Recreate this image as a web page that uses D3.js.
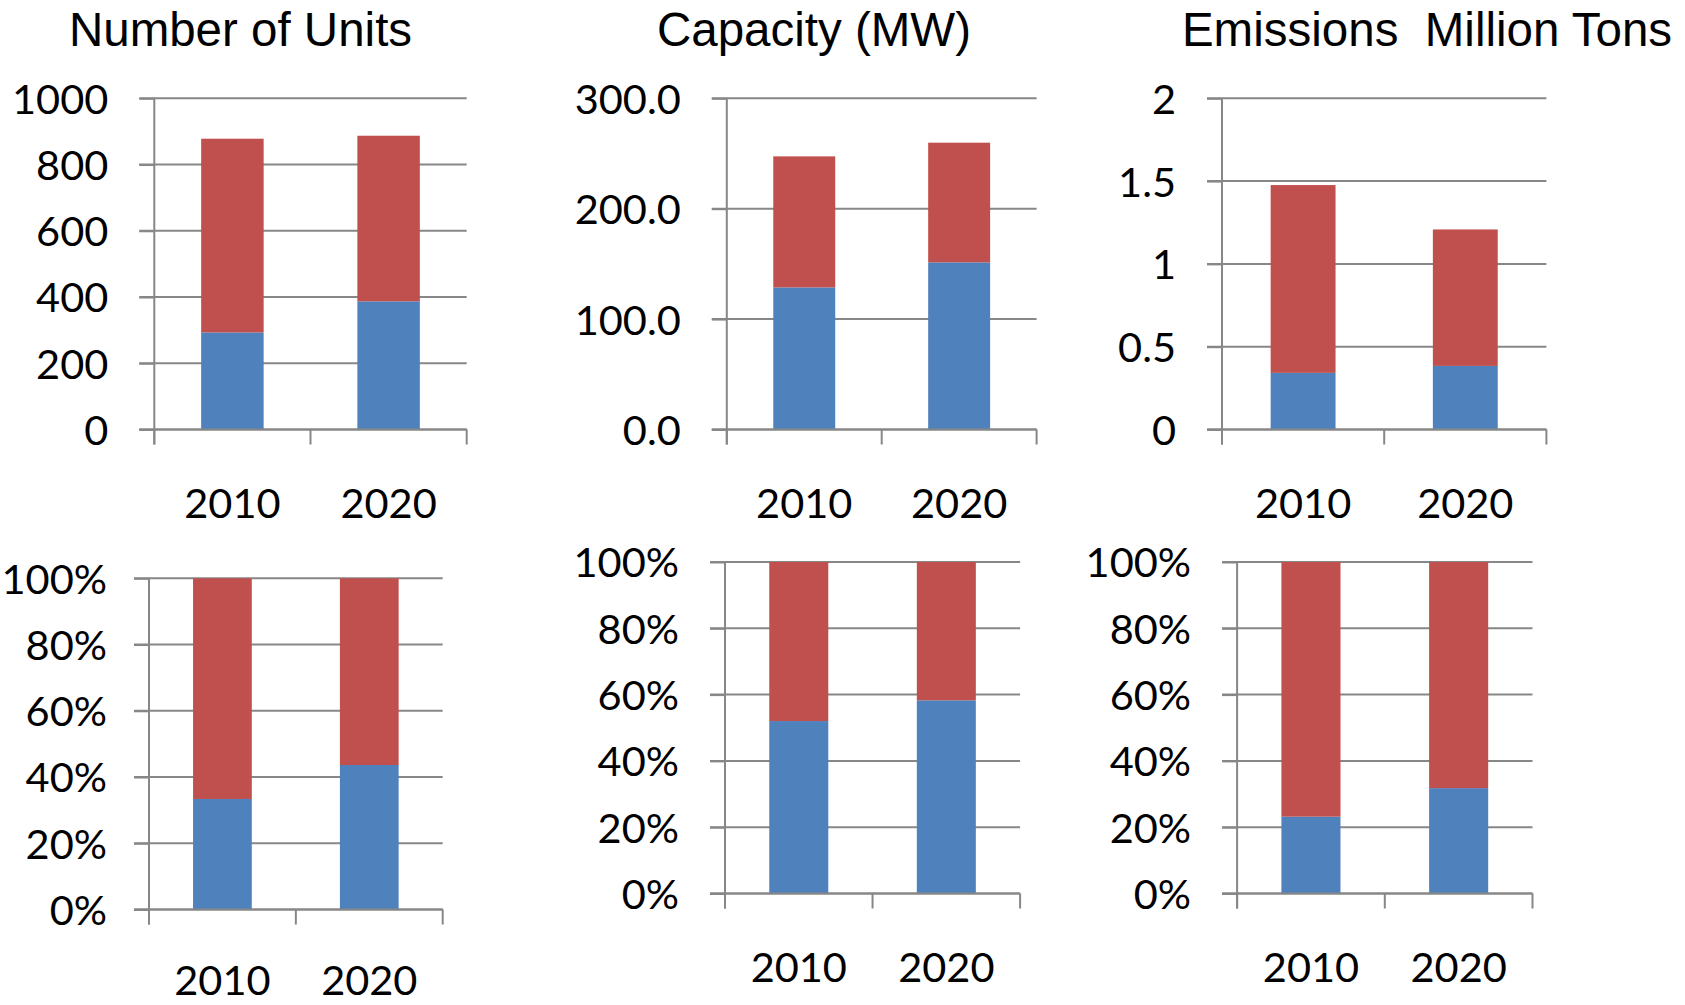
<!DOCTYPE html>
<html>
<head>
<meta charset="utf-8">
<script src="https://cdn.jsdelivr.net/npm/d3@7"></script>
<style>
  html, body { margin: 0; padding: 0; background: #fff; }
  svg { display: block; }
</style>
</head>
<body>
<svg id="chart" width="1685" height="1005"></svg>
<script>
// ---------------- data ----------------
const categories = ["2010", "2020"];
const unitsLower = [293, 387];
const unitsUpper = [585, 500];
const capacityLower = [128.7, 151.4];
const capacityUpper = [118.7, 108.4];
const emissionsLower = [0.342, 0.384];
const emissionsUpper = [1.134, 0.824];
const unitsTicks = [0, 200, 400, 600, 800, 1000];
const capacityTicks = [0, 100, 200, 300];
const emissionsTicks = [0, 0.5, 1, 1.5, 2];
const shareTicks = [0, 0.2, 0.4, 0.6, 0.8, 1];
const titles = ["Number of Units", "Capacity (MW)", "Emissions  Million Tons"];

// ---------------- style / layout ----------------
const colors = { lower: "#4F81BD", upper: "#C0504D" };
const gridColor = "#878787";
const tickFont = "Lato, 'Open Sans', sans-serif";
const titleFont = "'Liberation Sans', Arial, sans-serif";
const tickFontSize = 41.5;
const tickLen = 15;

const panels = [
  { x0: 154.3, x1: 466.7, top: 98.3, zero: 429.5, pad: 31, labY: 88.5, lower: unitsLower, upper: unitsUpper, ticks: unitsTicks, fmt: d3.format("d"), expand: false, title: titles[0], titleX: 240.5 },
  { x0: 726.8, x1: 1036.6, top: 98.3, zero: 429.5, pad: 31, labY: 88.5, lower: capacityLower, upper: capacityUpper, ticks: capacityTicks, fmt: d3.format(".1f"), expand: false, title: titles[1], titleX: 814 },
  { x0: 1222, x1: 1546.4, top: 98.3, zero: 429.5, pad: 31, labY: 88.5, lower: emissionsLower, upper: emissionsUpper, ticks: emissionsTicks, fmt: d3.format("~g"), expand: false, title: titles[2], titleX: 1427 },
  { x0: 149, x1: 442.7, top: 578.3, zero: 909.5, pad: 27, labY: 85.5, lower: unitsLower, upper: unitsUpper, ticks: shareTicks, fmt: d3.format(".0%"), expand: true },
  { x0: 725, x1: 1020.1, top: 562, zero: 893.5, pad: 31, labY: 88.5, lower: capacityLower, upper: capacityUpper, ticks: shareTicks, fmt: d3.format(".0%"), expand: true },
  { x0: 1237.1, x1: 1532.5, top: 562, zero: 893.5, pad: 31, labY: 88.5, lower: emissionsLower, upper: emissionsUpper, ticks: shareTicks, fmt: d3.format(".0%"), expand: true }
];

const svg = d3.select("#chart");
svg.append("rect").attr("width", 1685).attr("height", 1005).attr("fill", "#fff");

function drawPanel(cfg) {
  const g = svg.append("g");
  const x = d3.scaleBand().domain(categories).range([cfg.x0, cfg.x1])
    .paddingInner(0.6).paddingOuter(0.3);
  const maxV = cfg.ticks[cfg.ticks.length - 1];
  const y = d3.scaleLinear().domain([0, maxV]).range([cfg.zero, cfg.top]);

  // gridlines (extend left as outside tick marks)
  g.append("g").selectAll("line").data(cfg.ticks).join("line")
    .attr("x1", cfg.x0 - tickLen).attr("x2", cfg.x1)
    .attr("y1", d => y(d)).attr("y2", d => y(d))
    .attr("stroke", gridColor).attr("stroke-width", 2);

  // stacked bars
  const rows = categories.map((c, i) => ({ cat: c, lower: cfg.lower[i], upper: cfg.upper[i] }));
  const stack = d3.stack().keys(["lower", "upper"]);
  if (cfg.expand) stack.offset(d3.stackOffsetExpand);
  const series = stack(rows);
  g.append("g").selectAll("g").data(series).join("g")
    .attr("fill", s => colors[s.key])
    .selectAll("rect").data(s => s).join("rect")
    .attr("x", d => x(d.data.cat))
    .attr("width", x.bandwidth())
    .attr("y", d => y(d[1]))
    .attr("height", d => y(d[0]) - y(d[1]));

  // y axis labels via d3 axis
  const yAxis = d3.axisLeft(y).tickValues(cfg.ticks).tickFormat(cfg.fmt)
    .tickSize(tickLen).tickPadding(cfg.pad);
  const ya = g.append("g").attr("transform", `translate(${cfg.x0},0)`).call(yAxis);
  ya.select(".domain").remove();
  ya.selectAll(".tick line").attr("stroke", gridColor).attr("stroke-width", 2);
  ya.selectAll(".tick text")
    .attr("font-family", tickFont).attr("font-size", tickFontSize)
    .attr("fill", "#000").attr("dy", "0.36em");

  // vertical axis line
  g.append("line")
    .attr("x1", cfg.x0).attr("x2", cfg.x0)
    .attr("y1", cfg.top).attr("y2", cfg.zero + tickLen)
    .attr("stroke", gridColor).attr("stroke-width", 2);

  // horizontal axis line at zero (over bars)
  g.append("line")
    .attr("x1", cfg.x0 - tickLen).attr("x2", cfg.x1)
    .attr("y1", y(0)).attr("y2", y(0))
    .attr("stroke", gridColor).attr("stroke-width", 2);

  // category boundary ticks
  const bounds = [cfg.x0].concat(categories.map(c => x(c) + x.bandwidth() / 2 + x.step() / 2));
  g.append("g").selectAll("line").data(bounds).join("line")
    .attr("x1", d => d).attr("x2", d => d)
    .attr("y1", cfg.zero).attr("y2", cfg.zero + tickLen)
    .attr("stroke", gridColor).attr("stroke-width", 2);

  // category labels via d3 axis
  const xAxis = d3.axisBottom(x).tickSize(0);
  const xa = g.append("g").attr("transform", `translate(0,${cfg.zero})`).call(xAxis);
  xa.select(".domain").remove();
  xa.selectAll(".tick text")
    .attr("font-family", tickFont).attr("font-size", tickFontSize)
    .attr("fill", "#000").attr("y", cfg.labY).attr("dy", 0);

  if (cfg.title) {
    svg.append("text")
      .attr("x", cfg.titleX).attr("y", 46)
      .attr("text-anchor", "middle")
      .attr("font-family", titleFont).attr("font-size", 47.5)
      .attr("fill", "#000")
      .style("white-space", "pre")
      .text(cfg.title);
  }
}

panels.forEach(drawPanel);
</script>
</body>
</html>
